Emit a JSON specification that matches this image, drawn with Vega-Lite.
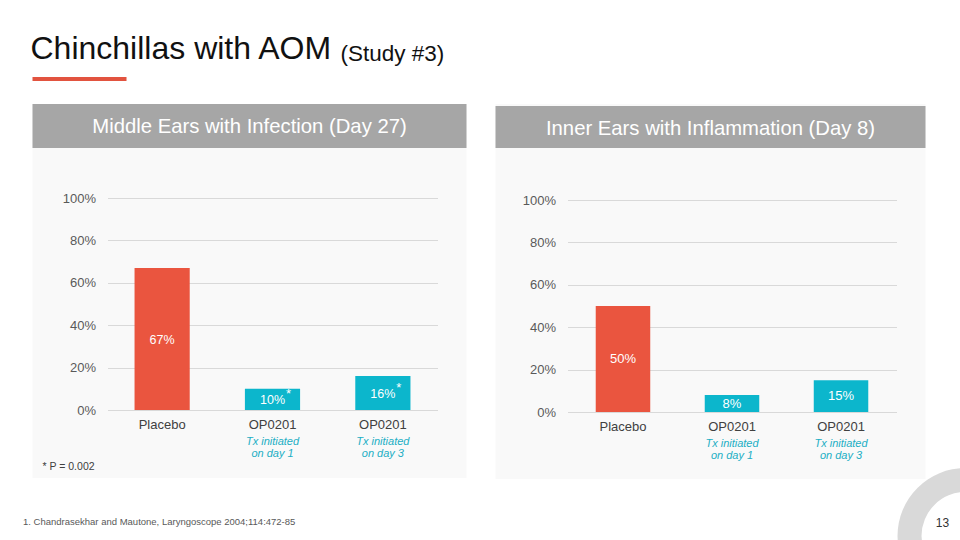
{
  "$schema": "https://vega.github.io/schema/vega-lite/v6.json",
  "background": "white",
  "padding": {"left": 22.5, "top": 33, "right": 0, "bottom": 0},
  "config": {
    "font": "Liberation Sans",
    "view": {"stroke": null},
    "title": {"fontWeight": "normal", "color": "#111111"}
  },
  "datasets": {
    "left": [
      {"group": "Placebo", "label": "Placebo", "value": 0.67, "text": "67%", "star": "", "note": ""},
      {"group": "OP0201 day 1", "label": "OP0201", "value": 0.10, "text": "10%", "star": "*", "note": ["Tx initiated", "on day 1"]},
      {"group": "OP0201 day 3", "label": "OP0201", "value": 0.16, "text": "16%", "star": "*", "note": ["Tx initiated", "on day 3"]}
    ],
    "right": [
      {"group": "Placebo", "label": "Placebo", "value": 0.50, "text": "50%", "star": "", "note": ""},
      {"group": "OP0201 day 1", "label": "OP0201", "value": 0.08, "text": "8%", "star": "", "note": ["Tx initiated", "on day 1"]},
      {"group": "OP0201 day 3", "label": "OP0201", "value": 0.15, "text": "15%", "star": "", "note": ["Tx initiated", "on day 3"]}
    ]
  },
  "columns": 2,
  "bounds": "flush",
  "align": "each",
  "spacing": {"row": 23, "column": 29},
  "concat": [
    {
      "width": 94,
      "height": 4,
      "data": {"values": [{"k": 1}]},
      "mark": {"type": "rect", "color": "#e2533f"},
      "encoding": {},
      "title": {"text": "Chinchillas with AOM", "anchor": "start", "frame": "group", "fontSize": 32, "dx": -2, "offset": 11}
    },
    {
      "width": 1,
      "height": 4,
      "data": {"values": [{"s": "(Study #3)"}]},
      "mark": {"type": "text", "align": "left", "baseline": "alphabetic", "fontSize": 22.5, "color": "#111111", "dx": -155.5, "dy": -18},
      "encoding": {"text": {"field": "s"}}
    },
    {
      "width": 434,
      "height": 374,
      "view": {"fill": "#f9f9f9", "stroke": null},
      "title": {"text": "* P = 0.002", "orient": "bottom", "anchor": "start", "frame": "group", "fontSize": 10.5, "color": "#404040", "dx": 10, "dy": -16, "offset": 0},
      "resolve": {"scale": {"y": "independent"}},
      "layer": [
        {
          "data": {"values": [{"h": "Middle Ears with Infection (Day 27)"}]},
          "mark": {"type": "rect", "color": "#a6a6a6"},
          "encoding": {
            "y": {"datum": 1.4434, "type": "quantitative", "scale": {"domain": [0, 1], "range": [306, 94], "nice": false}, "axis": null},
            "y2": {"datum": 1.2358}
          }
        },
        {
          "data": {"values": [{"h": "Middle Ears with Infection (Day 27)"}]},
          "mark": {"type": "text", "color": "white", "fontSize": 20.3, "baseline": "middle"},
          "encoding": {
            "y": {"datum": 1.335, "type": "quantitative", "scale": {"domain": [0, 1], "range": [306, 94], "nice": false}, "axis": null},
            "text": {"field": "h"}
          }
        },
        {
          "data": {"name": "left"},
          "mark": {"type": "bar"},
          "encoding": {
            "x": {
              "field": "group", "type": "nominal", "sort": null,
              "scale": {"range": [75, 405], "paddingInner": 0.5, "paddingOuter": 0.245},
              "axis": {"title": null, "orient": "bottom", "offset": -68, "domain": false, "ticks": false, "grid": false, "labelPadding": 8, "labelFontSize": 13, "labelColor": "#404040", "labelAngle": 0, "labelExpr": "indexof(datum.value, 'OP0201') == 0 ? 'OP0201' : datum.value"}
            },
            "y": {"field": "value", "type": "quantitative", "scale": {"domain": [0, 1], "range": [306, 94], "nice": false},
              "axis": {"title": null, "values": [0, 0.2, 0.4, 0.6, 0.8, 1], "format": ".0%", "offset": -75, "domain": false, "ticks": false, "labelPadding": 12, "labelFontSize": 13, "labelColor": "#595959", "grid": true, "gridColor": "#d9d9d9"}},
            "color": {"field": "label", "type": "nominal", "scale": {"domain": ["Placebo", "OP0201"], "range": ["#ea553f", "#0cb6cc"]}, "legend": null}
          }
        },
        {
          "data": {"name": "left"},
          "mark": {"type": "text", "color": "white", "fontSize": 12.5, "baseline": "middle", "dy": 1},
          "encoding": {
            "x": {"field": "group", "type": "nominal", "sort": null},
            "y": {"field": "value", "type": "quantitative", "scale": {"domain": [0, 2], "range": [306, 94], "nice": false}, "axis": null},
            "text": {"field": "text"}
          }
        },
        {
          "data": {"name": "left"},
          "mark": {"type": "text", "color": "white", "fontSize": 13, "baseline": "middle", "dx": 16, "dy": -5},
          "encoding": {
            "x": {"field": "group", "type": "nominal", "sort": null},
            "y": {"field": "value", "type": "quantitative", "scale": {"domain": [0, 2], "range": [306, 94], "nice": false}, "axis": null},
            "text": {"field": "star"}
          }
        },
        {
          "data": {"name": "left"},
          "mark": {"type": "text", "color": "#21aec4", "fontSize": 11, "fontStyle": "italic", "baseline": "top", "dy": 26, "lineHeight": 12},
          "encoding": {
            "x": {"field": "group", "type": "nominal", "sort": null},
            "y": {"datum": 0, "type": "quantitative", "scale": {"domain": [0, 1], "range": [306, 94], "nice": false}, "axis": null},
            "text": {"field": "note"}
          }
        }
      ]
    },
    {
      "width": 430,
      "height": 375,
      "view": {"fill": "#f9f9f9", "stroke": null},
      "resolve": {"scale": {"y": "independent"}},
      "layer": [
        {
          "data": {"values": [{"h": "Inner Ears with Inflammation (Day 8)"}]},
          "mark": {"type": "rect", "color": "#a6a6a6"},
          "encoding": {
            "y": {"datum": 1.4434, "type": "quantitative", "scale": {"domain": [0, 1], "range": [308, 96], "nice": false}, "axis": null},
            "y2": {"datum": 1.2453}
          }
        },
        {
          "data": {"values": [{"h": "Inner Ears with Inflammation (Day 8)"}]},
          "mark": {"type": "text", "color": "white", "fontSize": 20.3, "baseline": "middle"},
          "encoding": {
            "y": {"datum": 1.335, "type": "quantitative", "scale": {"domain": [0, 1], "range": [308, 96], "nice": false}, "axis": null},
            "text": {"field": "h"}
          }
        },
        {
          "data": {"name": "right"},
          "mark": {"type": "bar"},
          "encoding": {
            "x": {
              "field": "group", "type": "nominal", "sort": null,
              "scale": {"range": [72, 401], "paddingInner": 0.5, "paddingOuter": 0.259},
              "axis": {"title": null, "orient": "bottom", "offset": -67, "domain": false, "ticks": false, "grid": false, "labelPadding": 8, "labelFontSize": 13, "labelColor": "#404040", "labelAngle": 0, "labelExpr": "indexof(datum.value, 'OP0201') == 0 ? 'OP0201' : datum.value"}
            },
            "y": {"field": "value", "type": "quantitative", "scale": {"domain": [0, 1], "range": [308, 96], "nice": false},
              "axis": {"title": null, "values": [0, 0.2, 0.4, 0.6, 0.8, 1], "format": ".0%", "offset": -72, "domain": false, "ticks": false, "labelPadding": 12, "labelFontSize": 13, "labelColor": "#595959", "grid": true, "gridColor": "#d9d9d9"}},
            "color": {"field": "label", "type": "nominal", "scale": {"domain": ["Placebo", "OP0201"], "range": ["#ea553f", "#0cb6cc"]}, "legend": null}
          }
        },
        {
          "data": {"name": "right"},
          "mark": {"type": "text", "color": "white", "fontSize": 13, "baseline": "middle"},
          "encoding": {
            "x": {"field": "group", "type": "nominal", "sort": null},
            "y": {"field": "value", "type": "quantitative", "scale": {"domain": [0, 2], "range": [308, 96], "nice": false}, "axis": null},
            "text": {"field": "text"}
          }
        },
        {
          "data": {"name": "right"},
          "mark": {"type": "text", "color": "#21aec4", "fontSize": 11, "fontStyle": "italic", "baseline": "top", "dy": 26, "lineHeight": 12},
          "encoding": {
            "x": {"field": "group", "type": "nominal", "sort": null},
            "y": {"datum": 0, "type": "quantitative", "scale": {"domain": [0, 1], "range": [308, 96], "nice": false}, "axis": null},
            "text": {"field": "note"}
          }
        }
      ]
    },
    {
      "width": 1,
      "height": 40,
      "data": {"values": [{"t": "1.  Chandrasekhar and Mautone, Laryngoscope 2004;114:472-85"}]},
      "mark": {"type": "text", "align": "left", "baseline": "middle", "fontSize": 9.5, "color": "#595959", "dx": -10},
      "encoding": {"text": {"field": "t"}}
    },
    {
      "width": 940,
      "height": 68,
      "data": {"values": [{"n": "13"}]},
      "layer": [
        {"mark": {"type": "arc", "theta": 0, "theta2": 6.2832, "radius": 68, "radius2": 44, "color": "#d9d9d9"}, "encoding": {}},
        {"mark": {"type": "text", "fontSize": 12, "color": "#333333", "baseline": "middle", "dx": -23, "dy": -13}, "encoding": {"text": {"field": "n"}}}
      ]
    }
  ]
}
